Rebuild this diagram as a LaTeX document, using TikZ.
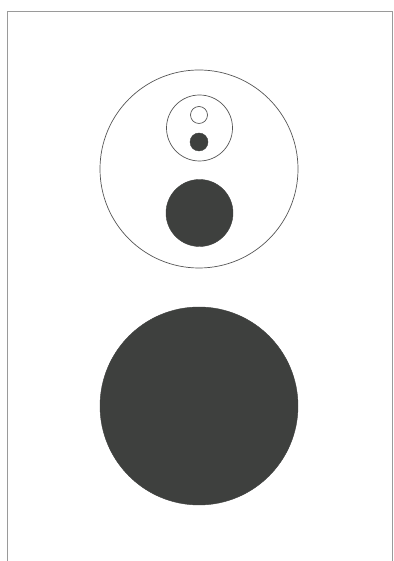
\documentclass[tikz,border=0pt]{standalone}
\usepackage{xcolor}
\usepackage{tikz}
\usetikzlibrary{positioning}

\definecolor{ink}{HTML}{3E403E}
\definecolor{rim}{HTML}{555555}
\definecolor{edge}{HTML}{9A9A9A}

\begin{document}
\begin{tikzpicture}[
  x=1pt, y=1pt,
  every node/.style={circle, inner sep=0pt, outer sep=0pt},
  ring/.style={draw=rim, line width=0.7pt},
  disc/.style={fill=ink, draw=ink, line width=0.4pt}
]
\useasboundingbox (0,0) rectangle (393,561);

% Frame (open at the bottom)
\coordinate (fbl) at (7,0);
\coordinate (ftl) at (7,550);
\coordinate (ftr) at (392,550);
\coordinate (fbr) at (392,0);
\draw[edge, line width=0.9pt] (fbl) -- (ftl) -- (ftr) -- (fbr);

% Upper group
\node[ring, minimum size=198pt] (outer) at (199,392) {};
\node[ring, minimum size=66pt] (inner) at (199.5,433) {};
\node[ring, minimum size=17pt] (dotopen) at (199,446) {};
\node[disc, minimum size=18pt] (dotfull) at (199,419) {};
\node[disc, minimum size=67pt] (midsun) at (199.5,348) {};

% Lower disc
\node[disc, minimum size=198pt] (bigsun) at (199,155) {};
\end{tikzpicture}
\end{document}
